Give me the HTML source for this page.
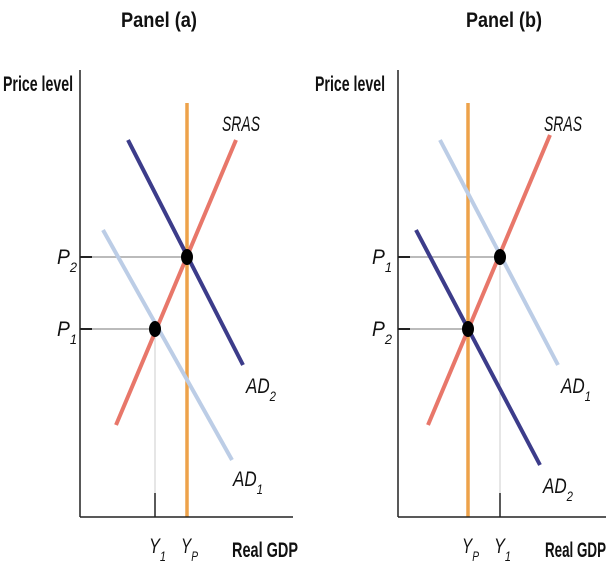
<!DOCTYPE html>
<html><head><style>body{margin:0;background:#fff}svg{display:block}</style></head><body>
<svg width="606" height="574" viewBox="0 0 606 574" xmlns="http://www.w3.org/2000/svg" font-family="Liberation Sans, sans-serif">
<g font-weight="bold" font-size="21" fill="#111">
<text x="121" y="27" textLength="76" lengthAdjust="spacingAndGlyphs">Panel (a)</text>
<text x="466" y="27" textLength="76" lengthAdjust="spacingAndGlyphs">Panel (b)</text>
<text x="3" y="91" textLength="70" lengthAdjust="spacingAndGlyphs">Price level</text>
<text x="315" y="91" textLength="70" lengthAdjust="spacingAndGlyphs">Price level</text>
<text x="232" y="557" textLength="66" lengthAdjust="spacingAndGlyphs">Real GDP</text>
<text x="545" y="557" textLength="61" lengthAdjust="spacingAndGlyphs">Real GDP</text>
</g>
<g>
<line x1="80" y1="257" x2="187" y2="257" stroke="#bbb" stroke-width="2"/>
<line x1="80" y1="329" x2="155" y2="329" stroke="#bbb" stroke-width="2"/>
<line x1="155" y1="329" x2="155" y2="493" stroke="#ccc" stroke-width="1"/>
<line x1="155" y1="493" x2="155" y2="517" stroke="#222" stroke-width="1.5"/>
<line x1="80" y1="257" x2="92" y2="257" stroke="#222" stroke-width="2"/>
<line x1="80" y1="329" x2="92" y2="329" stroke="#222" stroke-width="2"/>
<line x1="187" y1="103" x2="187" y2="517" stroke="#eda24a" stroke-width="3.5"/>
<line x1="103" y1="230" x2="232" y2="460" stroke="#bccde6" stroke-width="4"/>
<line x1="128" y1="140" x2="243" y2="365" stroke="#3c3c8a" stroke-width="4"/>
<line x1="116" y1="425" x2="236" y2="140" stroke="#e8776a" stroke-width="4"/>
<ellipse cx="187" cy="257" rx="6" ry="8" fill="#000"/>
<ellipse cx="155" cy="329" rx="6" ry="8" fill="#000"/>
<line x1="80" y1="70" x2="80" y2="517" stroke="#222" stroke-width="1.5"/>
<line x1="80" y1="517" x2="293" y2="517" stroke="#222" stroke-width="1.5"/>
</g>
<g>
<line x1="398" y1="257" x2="500" y2="257" stroke="#bbb" stroke-width="2"/>
<line x1="398" y1="329" x2="468" y2="329" stroke="#bbb" stroke-width="2"/>
<line x1="500" y1="257" x2="500" y2="493" stroke="#ccc" stroke-width="1"/>
<line x1="500" y1="493" x2="500" y2="517" stroke="#222" stroke-width="1.5"/>
<line x1="398" y1="257" x2="410" y2="257" stroke="#222" stroke-width="2"/>
<line x1="398" y1="329" x2="410" y2="329" stroke="#222" stroke-width="2"/>
<line x1="468" y1="103" x2="468" y2="517" stroke="#eda24a" stroke-width="3.5"/>
<line x1="440" y1="140" x2="558" y2="365" stroke="#bccde6" stroke-width="4"/>
<line x1="416" y1="230" x2="540" y2="465" stroke="#3c3c8a" stroke-width="4"/>
<line x1="428" y1="425" x2="550" y2="135" stroke="#e8776a" stroke-width="4"/>
<ellipse cx="500" cy="257" rx="6" ry="8" fill="#000"/>
<ellipse cx="468" cy="329" rx="6" ry="8" fill="#000"/>
<line x1="398" y1="70" x2="398" y2="517" stroke="#222" stroke-width="1.5"/>
<line x1="398" y1="517" x2="606" y2="517" stroke="#222" stroke-width="1.5"/>
</g>
<g font-style="italic" font-size="21" fill="#111">
<text x="222" y="131" textLength="38" lengthAdjust="spacingAndGlyphs">SRAS</text>
<text x="544" y="131" textLength="38" lengthAdjust="spacingAndGlyphs">SRAS</text>
<text x="57" y="264" textLength="20" lengthAdjust="spacingAndGlyphs">P<tspan font-size="14" dy="8">2</tspan></text>
<text x="57" y="336" textLength="20" lengthAdjust="spacingAndGlyphs">P<tspan font-size="14" dy="8">1</tspan></text>
<text x="372" y="264" textLength="20" lengthAdjust="spacingAndGlyphs">P<tspan font-size="14" dy="8">1</tspan></text>
<text x="372" y="336" textLength="20" lengthAdjust="spacingAndGlyphs">P<tspan font-size="14" dy="8">2</tspan></text>
<text x="246" y="393" textLength="30" lengthAdjust="spacingAndGlyphs">AD<tspan font-size="14" dy="8">2</tspan></text>
<text x="233" y="486" textLength="30" lengthAdjust="spacingAndGlyphs">AD<tspan font-size="14" dy="8">1</tspan></text>
<text x="561" y="393" textLength="30" lengthAdjust="spacingAndGlyphs">AD<tspan font-size="14" dy="8">1</tspan></text>
<text x="543" y="493" textLength="30" lengthAdjust="spacingAndGlyphs">AD<tspan font-size="14" dy="8">2</tspan></text>
<text x="149" y="553" textLength="17" lengthAdjust="spacingAndGlyphs">Y<tspan font-size="14" dy="8">1</tspan></text>
<text x="181" y="553" textLength="17" lengthAdjust="spacingAndGlyphs">Y<tspan font-size="14" dy="8">P</tspan></text>
<text x="462" y="553" textLength="17" lengthAdjust="spacingAndGlyphs">Y<tspan font-size="14" dy="8">P</tspan></text>
<text x="494" y="553" textLength="17" lengthAdjust="spacingAndGlyphs">Y<tspan font-size="14" dy="8">1</tspan></text>
</g>
</svg>
</body></html>
